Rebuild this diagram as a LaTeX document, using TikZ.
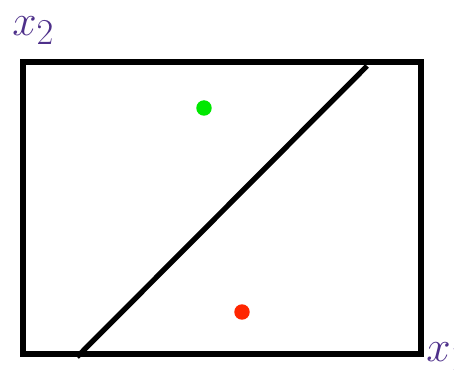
\documentclass[tikz,border=0pt]{standalone}
\usepackage{tikz}
\usetikzlibrary{positioning}
\usepackage{xcolor}
\definecolor{axispurple}{RGB}{78,48,138}
\definecolor{dotgreen}{RGB}{0,232,0}
\definecolor{dotred}{RGB}{255,38,0}

\begin{document}
\begin{tikzpicture}[
  x=0.02cm, y=-0.02cm,
  frame/.style={line width=3pt, line join=miter},
  sep/.style={line width=3pt},
  pt/.style={circle, fill=#1, inner sep=0pt, minimum size=0.31cm},
  axlbl/.style={text=axispurple, inner sep=0pt, anchor=base west, font=\fontsize{28}{30}\selectfont}
]
\useasboundingbox (0,0) rectangle (454,375);
\clip (0,0) rectangle (454,375);

\coordinate (sw) at (23,354);
\coordinate (ne) at (421,62);
\draw[frame] (sw) rectangle (ne);

% separating line
\coordinate (lo) at (77,357);
\coordinate (hi) at (367,66);
\draw[sep] (lo) -- (hi);

\node[pt=dotgreen] (g) at (204,108) {};
\node[pt=dotred] (r) at (242,312) {};

\node[axlbl] (xtwo) at (12,36) {$x_2$};
\node[axlbl] (xone) at (426,362) {$x_1$};
\end{tikzpicture}
\end{document}
